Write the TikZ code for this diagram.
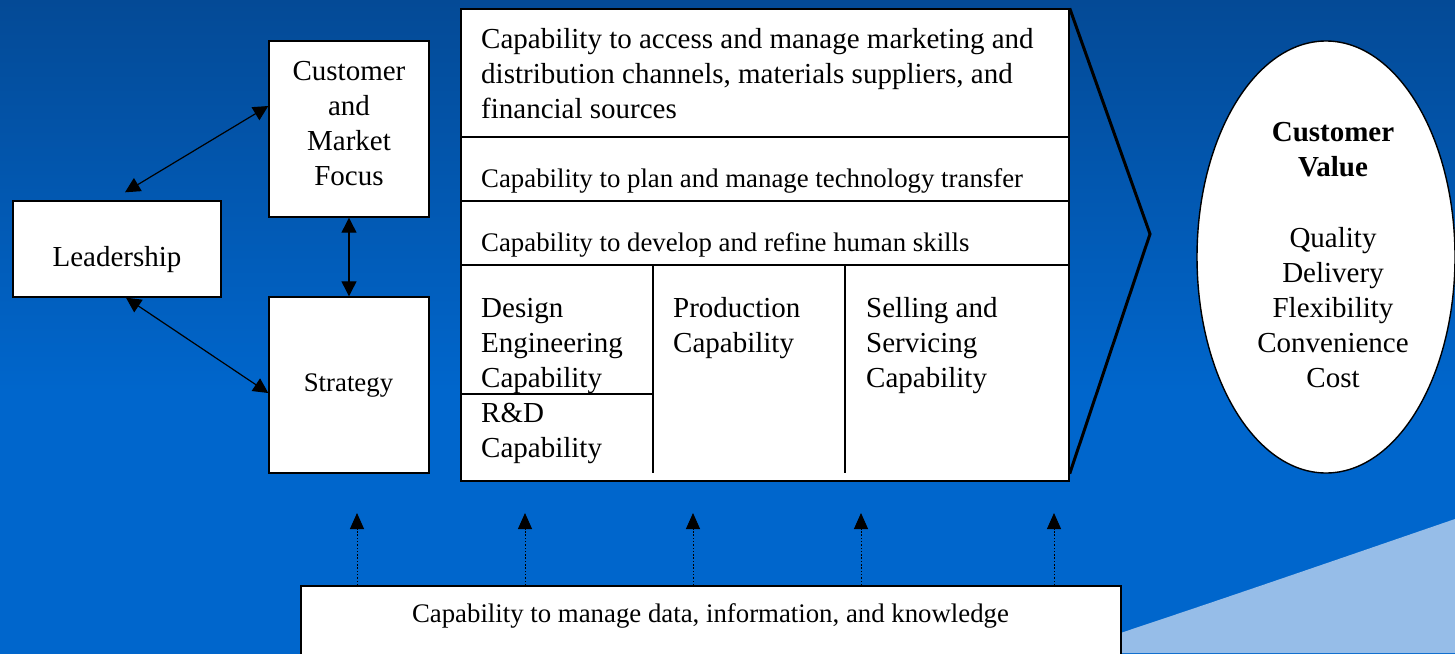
\documentclass[tikz,border=0pt]{standalone}
\usepackage{fontspec}
\setmainfont{Liberation Serif}
\usetikzlibrary{arrows.meta,shapes.geometric}

\definecolor{bgtop}{RGB}{4,74,150}
\definecolor{bgbot}{RGB}{0,102,204}
\definecolor{wave}{RGB}{150,189,232}
% background: darker blue at the top, flat blue in the lower part
\pgfdeclareverticalshading{bgshade}{100bp}{color(0bp)=(bgbot); color(45bp)=(bgbot); color(75bp)=(bgtop); color(100bp)=(bgtop)}

\tikzset{
  box/.style={draw=black, fill=white, line width=1.4pt, inner sep=0pt},
  rule/.style={draw=black, line width=1.4pt},
  bigtxt/.style={font=\fontsize{29}{35}\selectfont, inner sep=0pt},
  smalltxt/.style={font=\fontsize{26.8}{31}\selectfont, inner sep=0pt},
  dbl/.style={line width=1.2pt, {Triangle[length=15pt,width=15pt]}-{Triangle[length=15pt,width=15pt]}},
  feed/.style={line width=1pt, dash pattern=on 1.5pt off 1.8pt, -{Triangle[length=16pt,width=14pt]}},
}

\begin{document}
\begin{tikzpicture}[x=1pt, y=-1pt, line join=miter]
\useasboundingbox (0,0) rectangle (1455,653);
\shade[shading=bgshade] (0,0) rectangle (1455,653);
\fill[wave] (1455,519) .. controls (1330,562) and (1200,607) .. (1060,653) -- (1455,653) -- cycle;

% left column (multi-line texts are placed by the baseline of their last line)
\node[box, minimum width=208pt, minimum height=96pt] (lead) at (117,249) {};
\node[bigtxt, anchor=base] (leadtxt) at (117,266) {Leadership};
\node[box, minimum width=160pt, minimum height=176pt] (cust) at (349,129) {};
\node[bigtxt, anchor=base, align=center] (custtxt) at (349,185) {Customer\\and\\Market\\Focus};
\node[box, minimum width=160pt, minimum height=176pt] (strat) at (349,385) {};
\node[smalltxt, anchor=base] (strattxt) at (348.5,391) {Strategy};

\draw[dbl] ([xshift=8pt,yshift=8pt]lead.north) -- ([yshift=23pt]cust.west);
\draw[dbl] ([xshift=9pt]lead.south) -- ([yshift=-8pt]strat.west);
\draw[dbl] (cust.south) -- (strat.north);

% capabilities block
\node[box, minimum width=608pt, minimum height=472pt] (caps) at (765,245) {};
\draw[rule] (461,137) -- (1069,137);
\draw[rule] (461,201) -- (1069,201);
\draw[rule] (461,265) -- (1069,265);
\draw[rule] (653,265) -- (653,473);
\draw[rule] (845,265) -- (845,473);
\draw[rule] (461,394) -- (653,394);

\node[bigtxt, anchor=base west, align=left] (chan) at (481,118)
  {Capability to access and manage marketing and\\distribution channels, materials suppliers, and\\financial sources};
\node[smalltxt, anchor=base west] (tech) at (481,187) {Capability to plan and manage technology transfer};
\node[smalltxt, anchor=base west] (skills) at (481,251) {Capability to develop and refine human skills};
\node[bigtxt, anchor=base west, align=left] (design) at (481,387) {Design\\Engineering\\Capability};
\node[bigtxt, anchor=base west, align=left] (rnd) at (481,457) {R\&D\\Capability};
\node[bigtxt, anchor=base west, align=left] (prod) at (673,352) {Production\\Capability};
\node[bigtxt, anchor=base west, align=left] (sell) at (866,387) {Selling and\\Servicing\\Capability};

% chevron pointing to customer value
\coordinate (chev) at (1150,234);
\draw[line width=3pt] (caps.north east) -- (chev) -- ([yshift=8pt]caps.south east);

% customer value
\node[draw=black, fill=white, line width=1.4pt, ellipse, minimum width=258pt, minimum height=432pt, inner sep=0pt] (cv) at (1326,257) {};
\node[font=\fontsize{29}{34.8}\selectfont, inner sep=0pt, anchor=base, align=center] (cvtxt) at (1333,387)
  {\textbf{Customer}\\\textbf{Value}\\[37pt]Quality\\Delivery\\Flexibility\\Convenience\\Cost};

% data / information / knowledge base
\node[box, minimum width=820pt, minimum height=90pt] (data) at (711,631) {};
\node[smalltxt, anchor=base] (datatxt) at (710.5,622) {Capability to manage data, information, and knowledge};

\coordinate (f1) at (357,513);
\coordinate (f2) at (525,513);
\coordinate (f3) at (693,513);
\coordinate (f4) at (861,513);
\coordinate (f5) at (1054,513);
\foreach \f in {f1,f2,f3,f4,f5}
  \draw[feed] (\f |- data.north) -- (\f);
\end{tikzpicture}
\end{document}
